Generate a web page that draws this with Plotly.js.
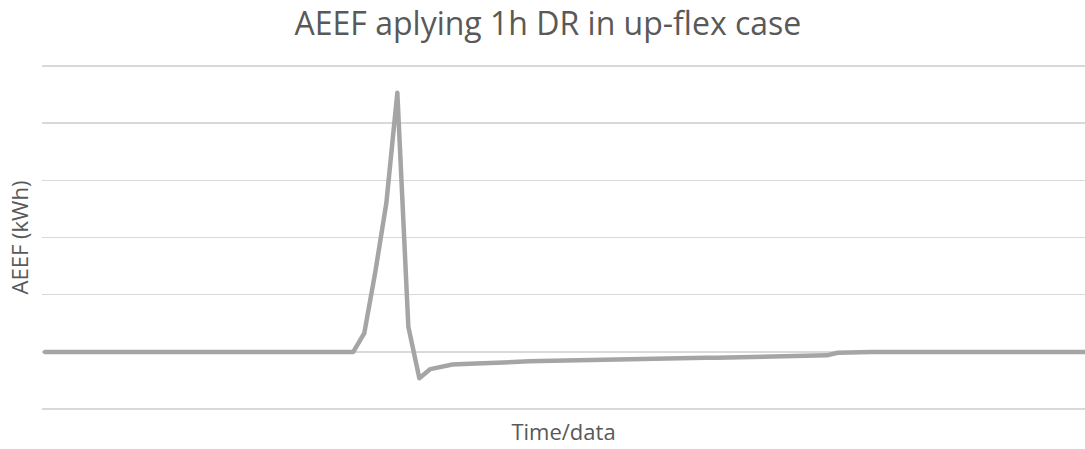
<!DOCTYPE html>
<html>
<head>
<meta charset="utf-8">
<script src="https://cdn.plot.ly/plotly-3.0.1.min.js"></script>
<style>
html,body{margin:0;padding:0;background:#fff;}
#chart{width:1085px;height:449px;}
.js-line{stroke-linejoin:round;stroke-linecap:round;}
</style>
</head>
<body>
<div id="chart"></div>
<script>
// 96 time steps (15-min intervals), index 0..95
const timeIndex = Array.from({length: 96}, (_, i) => i);

// AEEF values (kWh, relative units)
const preEvent = [0,0,0,0,0,0,0,0,0,0,0,0,0,0,0,0,0,0,0,0,0,0,0,0,0,0,0,0,0];           // idx 0-28
const eventRise = [0.33, 1.4, 2.6, 4.53];                                                 // idx 29-32
const rebound = [0.44, -0.46, -0.30, -0.25, -0.22, -0.21, -0.20, -0.19, -0.18, -0.175,
  -0.17, -0.165, -0.16, -0.155, -0.15, -0.145, -0.14, -0.135, -0.13, -0.13,
  -0.125, -0.12, -0.115, -0.11, -0.11, -0.105, -0.10, -0.10, -0.10, -0.095,
  -0.095, -0.09, -0.09, -0.09, -0.085, -0.07, -0.07, -0.065, -0.06, -0.015,
  -0.005, -0.005];                                                                        // idx 33-74
const postEvent = [0,0,0,0,0,0,0,0,0,0,0,0,0,0,0,0,0,0,0,0,0];                            // idx 75-95

const aeef = preEvent.concat(eventRise, rebound, postEvent);

const trace = {
  x: timeIndex,
  y: aeef,
  type: 'scatter',
  mode: 'lines',
  line: {color: '#a5a5a5', width: 4.5},
  hoverinfo: 'skip'
};

const layout = {
  width: 1085,
  height: 449,
  margin: {l: 42, r: 0, t: 63, b: 37},
  paper_bgcolor: '#ffffff',
  plot_bgcolor: '#ffffff',
  showlegend: false,
  title: {
    text: 'AEEF aplying 1h DR in up-flex case',
    font: {family: 'Open Sans, sans-serif', size: 32, color: '#595959'},
    x: 0.505, xanchor: 'center', y: 0.948, yanchor: 'middle'
  },
  xaxis: {
    range: [-0.27, 94.45],
    showgrid: false,
    zeroline: false,
    showline: false,
    showticklabels: false,
    ticks: '',
    title: {text: 'Time/data', font: {family: 'Open Sans, sans-serif', size: 22, color: '#595959'}, standoff: 12}
  },
  yaxis: {
    range: [-1.05, 5.05],
    dtick: 1,
    tick0: 0,
    showgrid: true,
    gridcolor: '#d9d9d9',
    gridwidth: 1.3,
    zeroline: false,
    showline: false,
    showticklabels: false,
    ticks: '',
    title: {text: 'AEEF (kWh)', font: {family: 'Open Sans, sans-serif', size: 22, color: '#595959'}, standoff: 6}
  }
};

Plotly.newPlot('chart', [trace], layout, {staticPlot: true, displayModeBar: false});
</script>
</body>
</html>
